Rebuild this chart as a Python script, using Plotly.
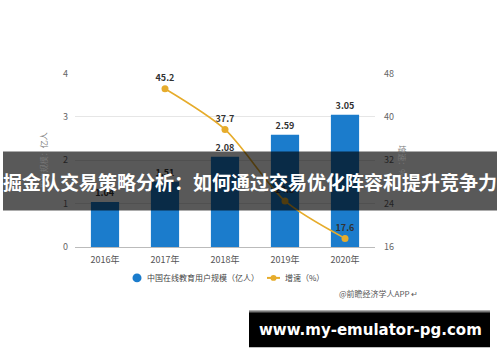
import plotly.graph_objects as go

years = ['2016年', '2017年', '2018年', '2019年', '2020年']
users = [1.04, 1.51, 2.08, 2.59, 3.05]
growth_years = ['2017年', '2018年', '2019年', '2020年']
growth = [45.2, 37.7, 24.5, 17.6]

title_text = '掘金队交易策略分析：如何通过交易优化阵容和提升竞争力'
site_text = 'www.my-emulator-pg.com'
source_text = '@前瞻经济学人APP'
bar_name = '中国在线教育用户规模（亿人）'
line_name = '增速（%）'

W, H = 500, 362
BLUE = '#1b7ccc'
GOLD = '#e6ac2c'
FONT = 'Noto Sans CJK SC, Noto Sans, sans-serif'

def py(pix):
    return 1 - pix / H

def px(pix):
    return pix / W

fig = go.Figure()
fig.add_trace(go.Bar(
    x=years, y=users, width=0.47, marker=dict(color=BLUE, line=dict(width=0)),
    text=[f'{v:.2f}' for v in users], textposition='outside',
    textfont=dict(size=9, color='#333', family=FONT, weight='bold'),
    cliponaxis=False, showlegend=False, name=bar_name))
fig.add_trace(go.Scatter(
    x=growth_years, y=growth, yaxis='y2', mode='lines+markers+text',
    line=dict(color=GOLD, width=1.6, shape='spline', smoothing=0.8),
    marker=dict(color=GOLD, size=7),
    text=[f'{v:.1f}' for v in growth], textposition='top center',
    textfont=dict(size=9, color='#333', family=FONT, weight='bold'),
    cliponaxis=False, name=line_name, showlegend=False))

fig.update_layout(
    width=W, height=H, margin=dict(l=0, r=0, t=0, b=0),
    paper_bgcolor='white', plot_bgcolor='white',
    font=dict(family=FONT, size=9, color='#666'),
    showlegend=False,
    xaxis=dict(domain=[px(75), px(375)], type='category', range=[-0.5, 4.5],
               showline=True, linecolor='#bbb', linewidth=1, ticks='',
               showgrid=False, tickfont=dict(size=9, color='#555'),
               ticklabelstandoff=4),
    yaxis=dict(range=[0, 4], dtick=1, domain=[py(249), py(69)],
               showgrid=True, gridcolor='#e6e6e6', zeroline=False,
               ticks='', tickfont=dict(size=9, color='#666'), ticklabelstandoff=6,
               title=dict(text='用户规模：亿人', font=dict(size=8, color='#777'), standoff=14)),
    yaxis2=dict(range=[16, 48], dtick=8, overlaying='y', side='right',
                showgrid=False, zeroline=False, ticks='', ticklabelstandoff=8,
                tickfont=dict(size=9, color='#666')),
)

# manual legend
fig.add_shape(type='circle', xref='paper', yref='paper',
              x0=px(132.5), x1=px(141.5), y0=py(285.5), y1=py(276.5),
              fillcolor=BLUE, line=dict(width=0))
fig.add_annotation(text=bar_name, xref='paper', yref='paper', x=px(145), y=py(281),
                   xanchor='left', yanchor='middle', showarrow=False,
                   font=dict(size=8, color='#444'))
fig.add_shape(type='line', xref='paper', yref='paper', x0=px(267), x1=px(280),
              y0=py(281), y1=py(281), line=dict(color=GOLD, width=2))
fig.add_shape(type='circle', xref='paper', yref='paper',
              x0=px(270.5), x1=px(276.5), y0=py(284), y1=py(278),
              fillcolor=GOLD, line=dict(width=0))
fig.add_annotation(text=line_name, xref='paper', yref='paper', x=px(283), y=py(281),
                   xanchor='left', yanchor='middle', showarrow=False,
                   font=dict(size=8, color='#444'))

# right axis title
fig.add_annotation(text='增速：%', xref='paper', yref='paper', x=px(403), y=py(160),
                   xanchor='center', yanchor='middle',
                   textangle=90, showarrow=False, font=dict(size=8, color='#777'))
# source
fig.add_annotation(text=source_text + ' ↵', xref='paper', yref='paper', x=px(337), y=py(297),
                   xanchor='left', yanchor='middle', showarrow=False,
                   font=dict(size=8, color='#555'))

# dark translucent title band
fig.add_shape(type='rect', xref='paper', yref='paper', x0=px(3), x1=px(497),
              y0=py(211), y1=py(150), fillcolor='rgba(0,0,0,0.65)', line=dict(width=0),
              layer='above')
fig.add_annotation(text=f'<b>{title_text}</b>', xref='paper', yref='paper',
                   x=0.5, y=py(181), xanchor='center', yanchor='middle', showarrow=False,
                   font=dict(size=19, color='white', family=FONT))

# black site box
fig.add_shape(type='rect', xref='paper', yref='paper', x0=px(249), x1=px(490),
              y0=py(353), y1=py(315), fillcolor='black', line=dict(width=0), layer='above')
fig.add_shape(type='rect', xref='paper', yref='paper', x0=px(249), x1=px(490),
              y0=py(317), y1=py(315), fillcolor='#777', line=dict(width=0), layer='above')
fig.add_annotation(text=f'<b>{site_text}</b>', xref='paper', yref='paper',
                   x=px(370), y=py(335), xanchor='center', yanchor='middle', showarrow=False,
                   font=dict(size=15, color='white', family='DejaVu Sans'))

fig.write_html('out.html')
